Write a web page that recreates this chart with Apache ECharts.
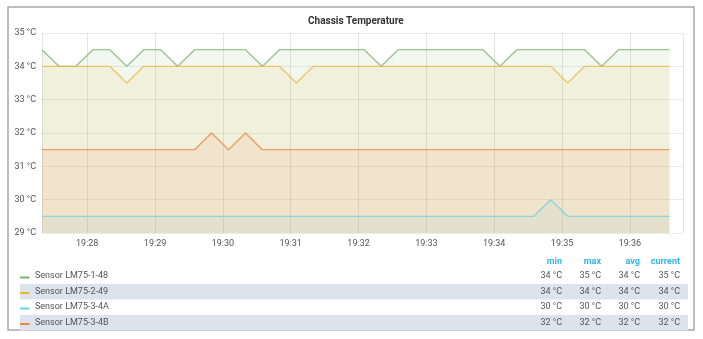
<!DOCTYPE html>
<html>
<head>
<meta charset="utf-8">
<script src="https://cdn.jsdelivr.net/npm/echarts@6/dist/echarts.min.js"></script>
<style>
html,body{margin:0;padding:0;background:#fff;}
#chart{width:703px;height:339px;}
</style>
</head>
<body>
<div id="chart"></div>
<script>
// ---- data ----
const chartTitle = 'Chassis Temperature';
const startTime = new Date(2020, 0, 1, 19, 27, 20).getTime();
const stepMs = 15000;
const axisEnd = new Date(2020, 0, 1, 19, 36, 47).getTime();

const seriesNames = ['Sensor LM75-1-48', 'Sensor LM75-2-49', 'Sensor LM75-3-4A', 'Sensor LM75-3-4B'];
const seriesColors = ['#7EB26D', '#EAB839', '#6ED0E0', '#EF843C'];

const sensor1 = [34.5,34,34,34.5,34.5,34,34.5,34.5,34,34.5,34.5,34.5,34.5,34,
  34.5,34.5,34.5,34.5,34.5,34.5,34,34.5,34.5,34.5,34.5,34.5,34.5,34,
  34.5,34.5,34.5,34.5,34.5,34,34.5,34.5,34.5,34.5];
const sensor2 = [34,34,34,34,34,33.5,34,34,34,34,34,34,34,34,34,33.5,
  34,34,34,34,34,34,34,34,34,34,34,34,34,34,34,33.5,34,34,34,34,34,34];
const sensor3 = [29.5,29.5,29.5,29.5,29.5,29.5,29.5,29.5,29.5,29.5,29.5,29.5,29.5,29.5,29.5,
  29.5,29.5,29.5,29.5,29.5,29.5,29.5,29.5,29.5,29.5,29.5,29.5,29.5,29.5,29.5,30,
  29.5,29.5,29.5,29.5,29.5,29.5,29.5];
const sensor4 = [31.5,31.5,31.5,31.5,31.5,31.5,31.5,31.5,31.5,31.5,32,31.5,32,31.5,
  31.5,31.5,31.5,31.5,31.5,31.5,31.5,31.5,31.5,31.5,31.5,31.5,31.5,31.5,31.5,31.5,
  31.5,31.5,31.5,31.5,31.5,31.5,31.5,31.5];
const seriesValues = [sensor1, sensor2, sensor3, sensor4];

const statHeaders = ['min', 'max', 'avg', 'current'];
const statMin = [34, 34, 30, 32];
const statMax = [35, 34, 30, 32];
const statAvg = [34, 34, 30, 32];
const statCurrent = [35, 34, 30, 32];
const statColumns = [statMin, statMax, statAvg, statCurrent];

const yMin = 29, yMax = 35, yStep = 1;

// ---- chart ----
const FONT = 'Roboto, sans-serif';
const chart = echarts.init(document.getElementById('chart'), null, {renderer: 'canvas'});

const series = seriesValues.map((vals, s) => ({
  name: seriesNames[s],
  type: 'line',
  showSymbol: false,
  symbol: 'none',
  color: seriesColors[s],
  lineStyle: {width: 1.4, color: seriesColors[s], opacity: 0.75},
  areaStyle: {color: seriesColors[s], opacity: 0.1, origin: 'start'},
  data: vals.map((v, i) => [startTime + i * stepMs, v]),
  animation: false,
  z: 2
}));

// legend table
const rowY = [276, 291.5, 307, 322.5];
const statX = [562, 601, 640, 680];
const graphics = [];
graphics.push({type: 'rect', shape: {x: 8, y: 7, width: 686, height: 323},
  style: {fill: 'none', stroke: '#a8a8a8', lineWidth: 1.5}, silent: true});
seriesNames.forEach((name, r) => {
  if (r % 2 === 1) {
    graphics.push({type: 'rect', shape: {x: 20, y: rowY[r] - 7.5, width: 668, height: 15.5},
      style: {fill: '#dde3ec'}, z: 0, silent: true});
  }
  graphics.push({type: 'rect', shape: {x: 20, y: rowY[r] + 0.5, width: 9.5, height: 2},
    style: {fill: seriesColors[r]}, z: 1});
  graphics.push({type: 'text', x: 35, y: rowY[r],
    style: {text: name, font: '9px ' + FONT, fill: '#555', textVerticalAlign: 'middle'}, z: 1});
  statColumns.forEach((col, c) => {
    graphics.push({type: 'text', x: statX[c], y: rowY[r],
      style: {text: col[r] + ' °C', font: '9px ' + FONT, fill: '#555', textAlign: 'right', textVerticalAlign: 'middle'}, z: 1});
  });
});
statHeaders.forEach((h, c) => {
  graphics.push({type: 'text', x: statX[c], y: 262,
    style: {text: h, font: 'bold 9px ' + FONT, fill: '#33b5e5', textAlign: 'right', textVerticalAlign: 'middle'}, z: 1});
});

chart.setOption({
  animation: false,
  backgroundColor: '#fff',
  title: {
    text: chartTitle, left: 303, top: 11,
    textStyle: {fontFamily: FONT, fontSize: 10, fontWeight: 'bold', color: '#333'}
  },
  grid: {left: 42, right: 20, top: 33, bottom: 106, containLabel: false},
  xAxis: {
    type: 'time',
    min: startTime, max: axisEnd,
    splitNumber: 10,
    minInterval: 60000, maxInterval: 60000,
    axisLine: {show: false},
    axisTick: {show: false},
    axisLabel: {formatter: '{HH}:{mm}', color: '#555', fontFamily: FONT, fontSize: 9, margin: 6,
      showMinLabel: false, showMaxLabel: false},
    splitLine: {show: true, lineStyle: {color: 'rgba(0,0,0,0.1)', width: 1}}
  },
  yAxis: {
    type: 'value',
    min: yMin, max: yMax, interval: yStep,
    axisLine: {show: false},
    axisTick: {show: false},
    axisLabel: {formatter: '{value} °C', color: '#555', fontFamily: FONT, fontSize: 9, margin: 6},
    splitLine: {show: true, lineStyle: {color: 'rgba(0,0,0,0.08)', width: 1}}
  },
  series: series,
  graphic: graphics
});
</script>
</body>
</html>
